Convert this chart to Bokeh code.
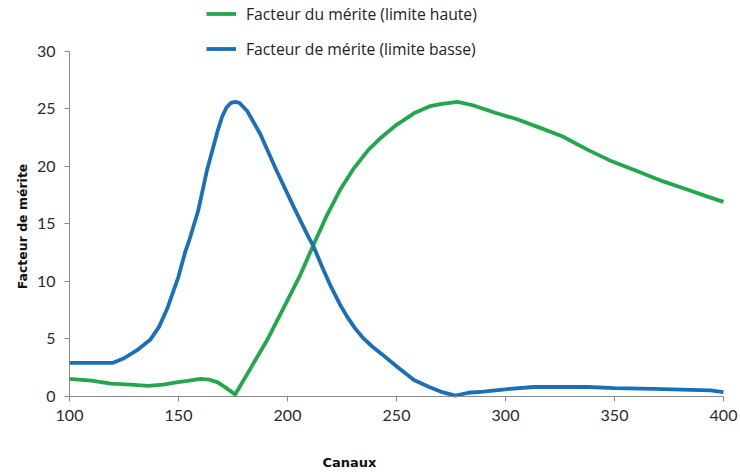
import math
from bokeh.plotting import figure
from bokeh.models import Range1d, FixedTicker, Legend, LegendItem, Label
from bokeh.embed import file_html
from bokeh.resources import INLINE

# Data
x_basse = [100, 110, 120, 125, 131, 137, 141, 145, 150, 153, 155, 159, 163, 168, 170, 172, 174,
           176, 178, 181.5, 187.5, 195, 203, 210, 212, 216, 220, 224, 227.4, 231, 235, 239, 243,
           250, 258, 265, 271, 277, 283, 290, 302, 313, 325, 338, 350, 368, 385, 394, 400]
y_basse = [2.9, 2.9, 2.9, 3.3, 4.0, 4.9, 6.0, 7.7, 10.4, 12.5, 13.6, 16.1, 19.6, 23.1, 24.3, 25.1, 25.5,
           25.6, 25.5, 24.8, 22.8, 19.6, 16.4, 13.7, 13.0, 11.2, 9.5, 8.0, 6.9, 5.9, 5.0, 4.3, 3.7,
           2.6, 1.4, 0.8, 0.35, 0.05, 0.3, 0.4, 0.64, 0.8, 0.8, 0.8, 0.7, 0.64, 0.55, 0.5, 0.35]

x_haute = [100, 110, 119, 128, 136, 143, 149, 155, 160, 164, 168, 172, 176, 183, 191,
           198, 206, 212, 218, 224, 230, 237, 243, 250, 258, 265, 270, 278, 285, 296,
           305, 315, 326, 338, 349, 360, 372, 383, 392, 400]
y_haute = [1.5, 1.35, 1.1, 1.0, 0.9, 1.0, 1.2, 1.35, 1.5, 1.45, 1.2, 0.7, 0.15, 2.4, 5.0,
           7.6, 10.6, 13.2, 15.7, 17.9, 19.7, 21.4, 22.5, 23.6, 24.6, 25.2, 25.4, 25.6, 25.3, 24.6,
           24.1, 23.4, 22.6, 21.4, 20.4, 19.6, 18.7, 18.0, 17.4, 16.9]

x_ticks = [100, 150, 200, 250, 300, 350, 400]
y_ticks = [0, 5, 10, 15, 20, 25, 30]

label_haute = "Facteur du mérite (limite haute)"
label_basse = "Facteur de mérite (limite basse)"
x_title = "Canaux"
y_title = "Facteur de mérite"

GREEN = "#22a84b"
BLUE = "#1a6fb9"
AXIS_GREY = "#8a8a8a"

# pixel geometry of the data area (whole canvas is the frame)
W, H = 738, 470
X0_PX, X1_PX = 69.0, 723.0
Y0_PX, Y30_PX = 395.7, 50.7
xs = (X1_PX - X0_PX) / (x_ticks[-1] - x_ticks[0])
ys = (Y0_PX - Y30_PX) / (y_ticks[-1] - y_ticks[0])
x_start = x_ticks[0] - X0_PX / xs
x_end = x_start + W / xs
y_end = y_ticks[0] + Y0_PX / ys
y_start = y_end - H / ys

p = figure(frame_width=W, frame_height=H, output_backend="svg",
           toolbar_location=None, x_range=Range1d(x_start, x_end),
           y_range=Range1d(y_start, y_end),
           min_border=0, min_border_left=0, min_border_right=0,
           min_border_top=0, min_border_bottom=0)
p.outline_line_color = None
p.xgrid.visible = False
p.ygrid.visible = False
p.background_fill_color = "white"
p.border_fill_color = "white"

r_h = p.line(x_haute, y_haute, line_color=GREEN, line_width=3.8, line_join="round")
r_b = p.line(x_basse, y_basse, line_color=BLUE, line_width=3.8, line_join="round")

for ax in (p.xaxis[0], p.yaxis[0]):
    ax.axis_line_color = AXIS_GREY
    ax.major_tick_line_color = AXIS_GREY
    ax.major_tick_out = 5
    ax.major_tick_in = 0
    ax.minor_tick_line_color = None
    ax.major_label_text_font = "Lato"
    ax.major_label_text_font_size = "16px"
    ax.major_label_text_color = "#2b2b2b"
    ax.major_label_standoff = 9

p.xaxis.ticker = FixedTicker(ticks=x_ticks)
p.yaxis.ticker = FixedTicker(ticks=y_ticks)
p.xaxis[0].fixed_location = y_ticks[0]
p.xaxis[0].bounds = (x_ticks[0], x_ticks[-1])
p.yaxis[0].fixed_location = x_ticks[0]
p.yaxis[0].bounds = (y_ticks[0], y_ticks[-1])

# axis titles
p.add_layout(Label(x=x_ticks[0] + (349 - X0_PX) / xs, y=(Y0_PX - 462) / ys, text=x_title,
                   text_align="center", text_baseline="middle",
                   text_font="DejaVu Sans", text_font_style="bold", text_font_size="13px",
                   text_color="#111111"))
p.add_layout(Label(x=x_ticks[0] + (21.5 - X0_PX) / xs, y=(Y0_PX - 226) / ys, text=y_title,
                   angle=math.pi / 2, text_align="center", text_baseline="middle",
                   text_font="DejaVu Sans", text_font_style="bold", text_font_size="12.5px",
                   text_color="#111111"))

legend = Legend(items=[LegendItem(label=label_haute, renderers=[r_h]),
                       LegendItem(label=label_basse, renderers=[r_b])],
                location=(206, H - 59.5), orientation="vertical",
                glyph_width=30, glyph_height=21, label_height=21, spacing=13,
                padding=0, margin=0, label_standoff=10,
                label_text_font="Open Sans", label_text_font_size="15.7px",
                label_text_color="#222222",
                border_line_color=None, background_fill_alpha=0)
p.add_layout(legend, "center")

open("out.html", "w").write(file_html(p, INLINE))
